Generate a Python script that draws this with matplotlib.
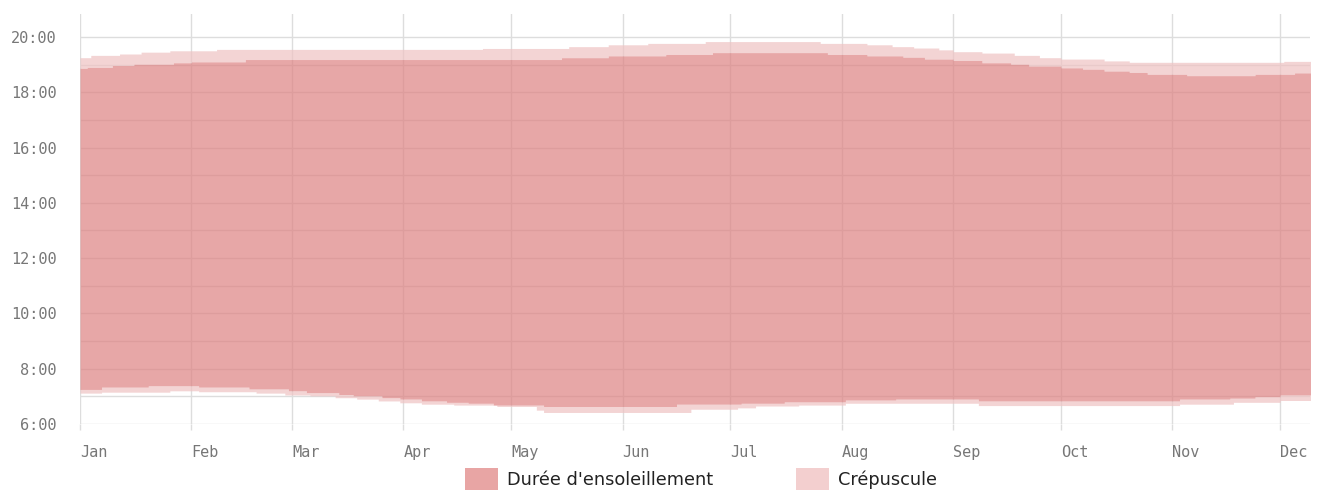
## -*- coding: utf-8 -*-

import numpy as np
import matplotlib
matplotlib.use('Agg')
import matplotlib.pyplot as plt
from matplotlib.patches import Patch
from matplotlib.ticker import FixedLocator, FuncFormatter, MultipleLocator
import matplotlib.dates as mdates

## Data: day of year where the value changes, and the time
dawn_days = [0, 6, 25, 33, 49, 57, 64, 71, 77, 83, 89, 95, 104, 116, 127, 129,
             170, 183, 188, 200, 213, 250, 306, 321, 334]
dawn_times = ['7:07', '7:09', '7:12', '7:10', '7:07', '7:03', '7:01', '6:57',
              '6:54', '6:50', '6:46', '6:43', '6:41', '6:38', '6:30', '6:25',
              '6:32', '6:35', '6:39', '6:41', '6:45', '6:40', '6:43', '6:47',
              '6:51']

sunrise_days = [0, 6, 19, 33, 47, 58, 63, 72, 76, 84, 89, 95, 102, 108, 115,
                129, 166, 184, 196, 213, 227, 250, 306, 320, 327, 334]
sunrise_times = ['7:15', '7:20', '7:23', '7:20', '7:16', '7:12', '7:08', '7:04',
                 '7:01', '6:57', '6:54', '6:50', '6:47', '6:45', '6:41', '6:38',
                 '6:43', '6:45', '6:48', '6:52', '6:54', '6:50', '6:54', '6:56',
                 '6:59', '7:03']

sunset_days = [0, 2, 9, 15, 26, 31, 46, 134, 147, 163, 176, 208, 219, 229, 235,
               243, 251, 259, 264, 273, 279, 285, 292, 297, 308, 327, 338]
sunset_times = ['18:52', '18:54', '18:58', '19:01', '19:04', '19:06', '19:11',
                '19:15', '19:19', '19:22', '19:26', '19:22', '19:19', '19:16',
                '19:12', '19:09', '19:04', '19:01', '18:57', '18:53', '18:50',
                '18:46', '18:43', '18:39', '18:36', '18:39', '18:42']

dusk_days = [0, 3, 11, 17, 25, 38, 112, 136, 147, 158, 174, 206, 219, 226, 232,
             239, 243, 251, 260, 267, 273, 285, 292, 335]
dusk_times = ['19:15', '19:20', '19:23', '19:27', '19:30', '19:33', '19:35',
              '19:39', '19:43', '19:46', '19:50', '19:46', '19:43', '19:39',
              '19:36', '19:32', '19:28', '19:25', '19:20', '19:15', '19:12',
              '19:08', '19:05', '19:07']

months = ['Jan', 'Feb', 'Mar', 'Apr', 'May', 'Jun', 'Jul', 'Aug', 'Sep', 'Oct',
          'Nov', 'Dec']
labels = ["Durée d'ensoleillement", 'Crépuscule']

## fills are drawn at alpha 0.7 so the grid shows through
sun_color = '#de8282'
twilight_color = '#efc3c3'
legend_sun = '#e8a5a4'
legend_twilight = '#f3cfcf'


def to_hours(times):
    return np.array([int(t.split(':')[0]) + int(t.split(':')[1]) / 60 for t in times])


def held(bp_days, bp_times, days):
    ## value in force on each day (step series)
    idx = np.searchsorted(np.array(bp_days), days, side='right') - 1
    return to_hours(bp_times)[idx]


if __name__ == '__main__':
    days = np.arange(0, 344)
    start = np.datetime64('2023-01-01')
    x = start + days.astype('timedelta64[D]')

    dawn = held(dawn_days, dawn_times, days)
    sunrise = held(sunrise_days, sunrise_times, days)
    sunset = held(sunset_days, sunset_times, days)
    dusk = held(dusk_days, dusk_times, days)

    fig = plt.figure(figsize=(13.19, 4.92), dpi=100)
    ax = fig.add_axes([80 / 1319, 1 - 424 / 492, 1230 / 1319, 410 / 492])

    ax.fill_between(x, dawn, sunrise, step='post', color=twilight_color,
                    alpha=0.7, lw=0, zorder=2)
    ax.fill_between(x, sunset, dusk, step='post', color=twilight_color,
                    alpha=0.7, lw=0, zorder=2)
    ax.fill_between(x, sunrise, sunset, step='post', color=sun_color,
                    alpha=0.7, lw=0, zorder=2)

    ax.set_ylim(6, 20.83)
    ax.set_xlim(mdates.date2num(start), mdates.date2num(start) + 342.3)

    ax.yaxis.set_major_locator(MultipleLocator(2))
    ax.yaxis.set_minor_locator(MultipleLocator(1))
    ax.yaxis.set_major_formatter(FuncFormatter(lambda v, p: '%d:00' % v))
    month_starts = [np.datetime64('2023-%02d-01' % m) for m in range(1, 13)]
    ax.set_xticks(mdates.date2num(month_starts))
    ax.set_xticklabels(months)

    for s in ax.spines.values():
        s.set_visible(False)

    ax.set_axisbelow(True)
    ax.grid(True, which='both', axis='y', color='#dddddd', lw=1, zorder=0)
    ax.grid(True, which='major', axis='x', color='#dddddd', lw=1, zorder=0)

    ax.tick_params(axis='y', which='both', length=0, pad=17, labelcolor='#777777')
    ax.tick_params(axis='x', length=4.5, width=1, color='#dddddd', pad=10.5,
                   labelcolor='#777777')
    for lab in ax.get_yticklabels() + ax.get_xticklabels():
        lab.set_fontfamily('DejaVu Sans Mono')
        lab.set_fontsize(11)
    for lab in ax.get_xticklabels():
        lab.set_horizontalalignment('left')

    handles = [Patch(facecolor=legend_sun, edgecolor='none'),
               Patch(facecolor=legend_twilight, edgecolor='none')]
    fig.legend(handles, labels, loc='center', ncol=2,
               bbox_to_anchor=(701 / 1319, 1 - 479 / 492),
               frameon=False, fontsize=12.8, handlelength=1.86, handleheight=1.45,
               handletextpad=0.5, columnspacing=4.67, borderpad=0,
               labelcolor='#222222')

    fig.savefig('out.png', dpi=100)
